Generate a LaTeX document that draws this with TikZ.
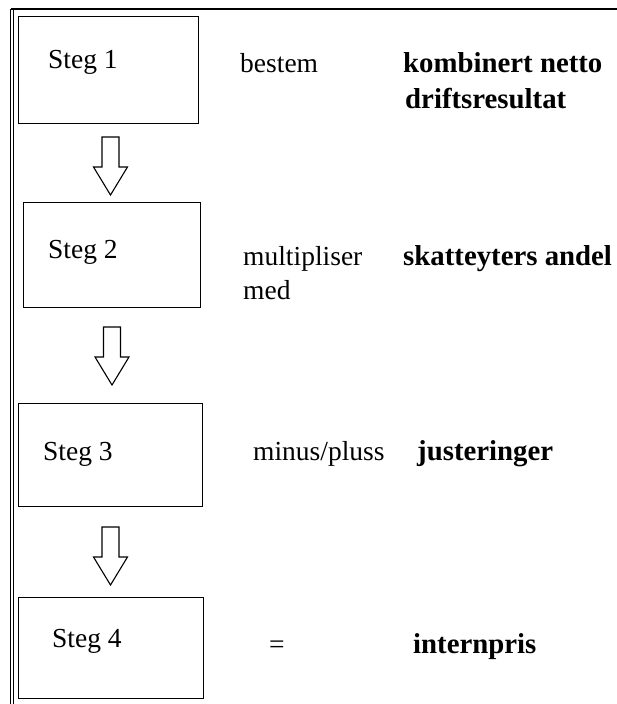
\documentclass[tikz,border=0pt]{standalone}
\usepackage{fontspec}
\setmainfont{Liberation Serif}
\begin{document}
\begin{tikzpicture}[x=1pt,y=-1pt,
  stepbox/.style={draw, line width=1.2pt, inner sep=0pt, anchor=north west},
  lbl/.style={inner sep=0pt, anchor=base west, font=\fontsize{27.5}{33}\selectfont},
  blbl/.style={inner sep=0pt, anchor=base west, font=\fontsize{28.8}{34}\selectfont\bfseries},
  blockarrow/.pic={\draw[line width=1.1pt, line join=miter, fill=white]
     (-8.5,0) -- (8.5,0) -- (8.5,30) -- (17,30) -- (0,58) -- (-17,30) -- (-8.5,30) -- cycle;}]
\useasboundingbox (0,0) rectangle (617,704);
\fill[white] (0,0) rectangle (617,704);
% outer frame
\coordinate (fTL) at (11,9);
\coordinate (fTR) at (620,9);
\draw[line width=1.6pt] (fTL) -- (fTR);
\draw[line width=1pt] (10.5,9) -- (10.5,706);
\draw[line width=1pt] (13.5,9) -- (13.5,706);
% boxes
\node[stepbox, minimum width=180pt, minimum height=107pt] (b1) at (18,16) {};
\node[stepbox, minimum width=177.5pt, minimum height=105pt] (b2) at (22.5,202) {};
\node[stepbox, minimum width=184pt, minimum height=103pt] (b3) at (18,403) {};
\node[stepbox, minimum width=185pt, minimum height=101pt] (b4) at (18,597) {};
% block arrows
\pic (a1) at (110.5,137) {blockarrow};
\pic (a2) at (112,327) {blockarrow};
\pic (a3) at (110.5,527) {blockarrow};
% texts
\node[lbl] (s1) at (48,68) {Steg 1};
\node[lbl] (t1) at (240,72) {bestem};
\node[blbl] (r1) at (403,72) {kombinert netto};
\node[blbl] (r1b) at (405,108) {driftsresultat};
\node[lbl] (s2) at (48,258) {Steg 2};
\node[lbl] (t2) at (243,265) {multipliser};
\node[lbl] (t2b) at (243,299) {med};
\node[blbl] (r2) at (403,265) {skatteyters andel};
\node[lbl] (s3) at (43,460) {Steg 3};
\node[lbl] (t3) at (253,460) {minus/pluss};
\node[blbl] (r3) at (417,460) {justeringer};
\node[lbl] (s4) at (52,647) {Steg 4};
\node[lbl] (t4) at (269,653) {=};
\node[blbl] (r4) at (413,653) {internpris};
\end{tikzpicture}
\end{document}
